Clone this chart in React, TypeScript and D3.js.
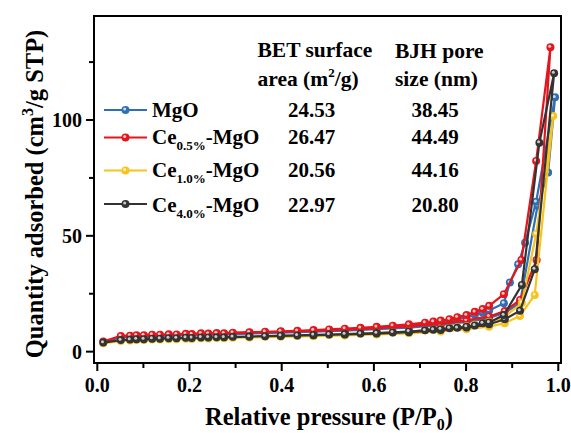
import React from "react";
import * as d3 from "d3";

// ---- Data ----
const ADS_P = [0.013, 0.051, 0.071, 0.101, 0.136, 0.172, 0.205, 0.241, 0.275, 0.33, 0.398, 0.469, 0.537, 0.606, 0.676, 0.745, 0.801, 0.85, 0.884, 0.917];
const DES_P = [0.882, 0.85, 0.836, 0.819, 0.801, 0.781, 0.764, 0.745, 0.729, 0.711, 0.676, 0.641, 0.606, 0.571, 0.537, 0.503, 0.469, 0.434, 0.398, 0.364, 0.33, 0.294, 0.259, 0.225, 0.192, 0.155, 0.119, 0.085];

const mgoAds = [4.1, 6.2, 6.4, 6.6, 6.8, 7.0, 7.2, 7.3, 7.5, 7.8, 8.2, 8.6, 9.1, 9.7, 10.4, 11.5, 12.8, 14.5, 16.8, 21.0];
const mgoAdsTail: [number, number][] = [[0.955, 63.0], [0.978, 77.3], [0.993, 109.8]];
const mgoDesHead: [number, number][] = [[0.952, 64.7], [0.928, 47.0], [0.913, 37.7], [0.895, 29.8]];
const mgoDes = [20.9, 17.8, 16.8, 15.9, 14.9, 14.0, 13.3, 12.7, 12.3, 11.9, 11.3, 10.8, 10.3, 9.9, 9.5, 9.2, 8.9, 8.6, 8.4, 8.2, 8.0, 7.8, 7.6, 7.4, 7.2, 7.0, 6.8, 6.6];

const ce05Ads = [4.4, 6.8, 6.9, 7.1, 7.3, 7.4, 7.6, 7.8, 7.9, 8.2, 8.6, 9.0, 9.5, 10.1, 10.9, 12.0, 13.5, 15.2, 17.5, 22.3];
const ce05AdsTail: [number, number][] = [[0.953, 39.6], [0.983, 131.4]];
const ce05DesHead: [number, number][] = [[0.952, 82.3], [0.92, 39.6]];
const ce05Des = [24.8, 19.8, 18.4, 17.2, 15.8, 14.9, 14.0, 13.4, 13.0, 12.5, 11.8, 11.2, 10.7, 10.3, 9.9, 9.6, 9.3, 9.0, 8.8, 8.6, 8.4, 8.2, 8.0, 7.9, 7.7, 7.5, 7.3, 7.1];

const ce10Ads = [3.6, 4.6, 4.8, 5.0, 5.2, 5.4, 5.5, 5.7, 5.8, 6.1, 6.4, 6.7, 7.0, 7.4, 7.9, 8.7, 9.7, 10.8, 12.3, 15.4];
const ce10AdsTail: [number, number][] = [[0.949, 24.5], [0.989, 101.7]];
const ce10DesHead: [number, number][] = [[0.952, 50.8], [0.921, 21.0]];
const ce10Des = [14.8, 12.9, 12.3, 11.6, 11.0, 10.5, 10.2, 9.8, 9.5, 9.2, 8.7, 8.3, 8.0, 7.7, 7.4, 7.2, 7.0, 6.8, 6.6, 6.4, 6.2, 6.0, 5.9, 5.8, 5.6, 5.4, 5.2, 5.0];

const ce40Ads = [3.9, 5.0, 5.2, 5.4, 5.6, 5.8, 5.9, 6.1, 6.2, 6.5, 6.8, 7.1, 7.4, 7.8, 8.4, 9.3, 10.4, 11.8, 14.0, 17.7];
const ce40AdsTail: [number, number][] = [[0.949, 35.6], [0.991, 120.2]];
const ce40DesHead: [number, number][] = [[0.959, 90.2], [0.921, 28.8]];
const ce40Des = [15.8, 12.6, 12.3, 11.3, 10.8, 10.3, 10.1, 9.7, 9.5, 9.2, 8.7, 8.3, 8.0, 7.8, 7.6, 7.4, 7.2, 7.0, 6.9, 6.7, 6.5, 6.4, 6.2, 6.1, 6.0, 5.8, 5.6, 5.4];

const seriesNames = ["MgO", "Ce0.5%-MgO", "Ce1.0%-MgO", "Ce4.0%-MgO"];
const seriesColors = ["#2f6fb6", "#e3161d", "#f6c41c", "#333333"];
const betArea = ["24.53", "26.47", "20.56", "22.97"];
const bjhPore = ["38.45", "44.49", "44.16", "20.80"];

const xTicks = [0, 0.2, 0.4, 0.6, 0.8, 1.0];
const xMinor = [0.1, 0.3, 0.5, 0.7, 0.9];
const yTicks = [0, 50, 100];
const yMinor = [25, 75, 125];

function build(ads: number[], tail: [number, number][], head: [number, number][], des: number[]): [number, number][] {
  const a: [number, number][] = ADS_P.map((p, i) => [p, ads[i]]);
  const d: [number, number][] = DES_P.map((p, i) => [p, des[i]]);
  return [...a, ...tail, ...head, ...d];
}

const seriesData = [
  build(mgoAds, mgoAdsTail, mgoDesHead, mgoDes),
  build(ce05Ads, ce05AdsTail, ce05DesHead, ce05Des),
  build(ce10Ads, ce10AdsTail, ce10DesHead, ce10Des),
  build(ce40Ads, ce40AdsTail, ce40DesHead, ce40Des),
];

const W = 571, H = 433;
const L = 94, R = 561, T = 16, B = 363;
const FONT = "Liberation Serif, Tinos, Times New Roman, DejaVu Serif, serif";
const txt = { fontFamily: FONT, fontWeight: 700 as const };

const Marker = ({ x, y, color }: { x: number; y: number; color: string }) => (
  <g>
    <circle cx={x} cy={y} r={4} fill={color} />
    <circle cx={x - 0.8} cy={y - 0.9} r={1.5} fill="#fff" opacity={0.75} />
  </g>
);

const SeriesLabel = ({ name, x, y }: { name: string; x: number; y: number }) => {
  if (name.startsWith("Ce")) {
    const sub = name.slice(2, name.indexOf("-"));
    const rest = name.slice(name.indexOf("-"));
    return (
      <text x={x} y={y} style={txt} fontSize={21}>
        Ce
        <tspan fontSize={13} dy={6}>{sub}</tspan>
        <tspan dy={-6}>{rest}</tspan>
      </text>
    );
  }
  return (
    <text x={x} y={y} style={txt} fontSize={21}>{name}</text>
  );
};

export default function App() {
  const x = d3.scaleLinear().domain([-0.00716, 1.0059]).range([L, R]);
  const y = d3.scaleLinear().domain([-4.9, 144.9]).range([B, T]);
  const line = d3.line<[number, number]>().x((d) => x(d[0])).y((d) => y(d[1]));

  const legendRows = [110, 137.5, 170.5, 204];
  const labelBase = [116.5, 144, 177, 211.5];

  return (
    <svg width={W} height={H} style={{ position: "absolute", left: 0, top: 0, background: "#fff" }}>
      <defs>
        <clipPath id="plotclip">
          <rect x={L} y={T} width={R - L} height={B - T} />
        </clipPath>
      </defs>
      <g clipPath="url(#plotclip)">
        {seriesData.map((pts, si) => (
          <g key={si}>
            <path d={line(pts) || ""} fill="none" stroke={seriesColors[si]} strokeWidth={2.2} strokeLinejoin="round" />
            {pts.map((p, i) => (
              <Marker key={i} x={x(p[0])} y={y(p[1])} color={seriesColors[si]} />
            ))}
          </g>
        ))}
      </g>

      <rect x={L} y={T} width={R - L} height={B - T} fill="none" stroke="#000" strokeWidth={2} />

      {xTicks.map((t) => (
        <g key={"xt" + t}>
          <line x1={x(t)} x2={x(t)} y1={B} y2={B + 8} stroke="#000" strokeWidth={2} />
          <text x={x(t)} y={391.5} textAnchor="middle" style={txt} fontSize={20}>
            {t.toFixed(1)}
          </text>
        </g>
      ))}
      {xMinor.map((t) => (
        <line key={"xm" + t} x1={x(t)} x2={x(t)} y1={B} y2={B + 5} stroke="#000" strokeWidth={2} />
      ))}
      {yTicks.map((t) => (
        <g key={"yt" + t}>
          <line x1={L - 8} x2={L} y1={y(t)} y2={y(t)} stroke="#000" strokeWidth={2} />
          <text x={82} y={y(t) + 7} textAnchor="end" style={txt} fontSize={20}>
            {t}
          </text>
        </g>
      ))}
      {yMinor.map((t) => (
        <line key={"ym" + t} x1={L - 5} x2={L} y1={y(t)} y2={y(t)} stroke="#000" strokeWidth={2} />
      ))}

      <text x={329} y={425} textAnchor="middle" style={txt} fontSize={24.5}>
        Relative pressure (P/P
        <tspan fontSize={16} dy={5}>0</tspan>
        <tspan dy={-5}>)</tspan>
      </text>
      <text transform={`translate(43, 194) rotate(-90)`} textAnchor="middle" style={txt} fontSize={24.5}>
        Quantity adsorbed (cm
        <tspan fontSize={16} dy={-10}>3</tspan>
        <tspan dy={10}>/g STP)</tspan>
      </text>

      <text x={257.5} y={57} style={txt} fontSize={21.5}>BET surface</text>
      <text x={257.5} y={86} style={txt} fontSize={21.5}>
        area (m
        <tspan fontSize={13} dy={-9}>2</tspan>
        <tspan dy={9}>/g)</tspan>
      </text>
      <text x={395} y={58} style={txt} fontSize={21.5}>BJH pore</text>
      <text x={395} y={86} style={txt} fontSize={21.5}>size (nm)</text>

      {seriesNames.map((name, i) => (
        <g key={name}>
          <line x1={104} x2={147} y1={legendRows[i]} y2={legendRows[i]} stroke={seriesColors[i]} strokeWidth={2.2} />
          <Marker x={125.5} y={legendRows[i]} color={seriesColors[i]} />
          <SeriesLabel name={name} x={152} y={labelBase[i]} />
          <text x={311.5} y={labelBase[i]} textAnchor="middle" style={txt} fontSize={21}>
            {betArea[i]}
          </text>
          <text x={435} y={labelBase[i]} textAnchor="middle" style={txt} fontSize={21}>
            {bjhPore[i]}
          </text>
        </g>
      ))}
    </svg>
  );
}
